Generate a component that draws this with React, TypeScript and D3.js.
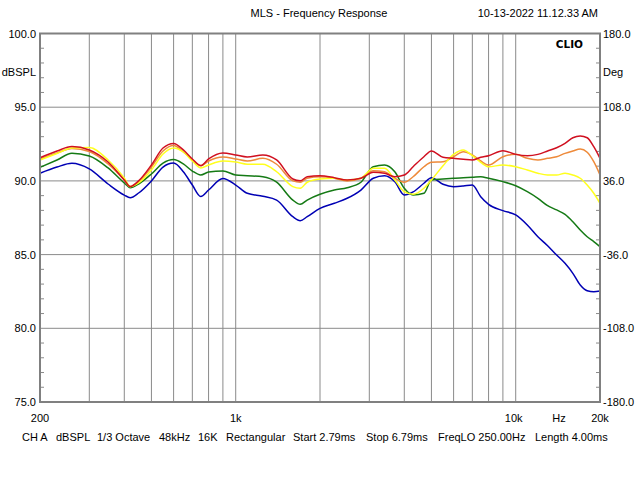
import * as d3 from "d3";

// frequency points (Hz) shared by every trace
const freqs = [
  200, 230, 260, 300, 350, 400, 420, 450, 500, 550, 600, 650, 700, 750, 800,
  900, 1000, 1100, 1250, 1400, 1600, 1700, 1800, 2000, 2250, 2500, 2800, 3100,
  3400, 3700, 4000, 4300, 4700, 5000, 5500, 6000, 6500, 7000, 7500, 8000, 9000,
  10000, 11000, 12000, 13000, 14000, 15000, 16000, 17000, 18000, 19000, 20000,
];

const blueDb = [
  90.52, 90.94, 91.19, 90.81, 89.79, 89.04, 88.86, 89.18, 90.0, 90.94, 91.21,
  90.62, 89.72, 88.94, 89.38, 90.16, 89.72, 89.16, 88.96, 88.7, 87.57, 87.3,
  87.57, 88.14, 88.48, 88.82, 89.38, 90.18, 90.35, 89.95, 89.04, 89.25, 89.84,
  90.22, 89.77, 89.61, 89.65, 89.72, 88.93, 88.41, 87.98, 87.69, 87.01, 86.21,
  85.6, 84.97, 84.41, 83.73, 82.94, 82.55, 82.48, 82.53,
];

const greenDb = [
  90.92, 91.42, 91.87, 91.69, 90.88, 89.86, 89.54, 89.79, 90.47, 91.21, 91.45,
  91.15, 90.67, 90.4, 90.6, 90.67, 90.4, 90.35, 90.28, 89.91, 88.7, 88.41, 88.7,
  89.09, 89.38, 89.54, 89.91, 90.96, 91.08, 90.62, 89.5, 89.04, 89.16, 90.06,
  90.13, 90.18, 90.22, 90.24, 90.28, 90.18, 89.95, 89.67, 89.27, 88.82, 88.32,
  88.03, 87.73, 87.23, 86.67, 86.21, 85.88, 85.54,
];

const orangeDb = [
  91.49, 91.89, 92.2, 91.99, 91.15, 90.06, 89.61, 89.93, 90.94, 92.03, 92.4,
  91.96, 91.42, 91.03, 91.35, 91.62, 91.49, 91.35, 91.53, 91.13, 90.0, 89.91,
  90.18, 90.28, 90.18, 90.0, 90.18, 90.69, 90.62, 90.18, 89.91, 90.28, 90.96,
  91.26, 91.3, 91.64, 91.98, 91.76, 91.35, 91.08, 91.64, 91.8, 91.53, 91.42,
  91.53, 91.64, 91.87, 92.03, 92.16, 91.94, 91.3, 90.4,
];

const yellowDb = [
  91.42, 91.86, 92.23, 92.27, 91.42, 90.2, 89.62, 89.86, 90.74, 91.82, 92.23,
  91.96, 91.35, 90.88, 91.08, 91.35, 91.28, 91.13, 91.13, 90.62, 89.61, 89.5,
  89.91, 90.13, 90.18, 90.06, 90.18, 90.85, 90.85, 90.06, 89.27, 89.09, 89.5,
  90.06, 91.03, 91.8, 92.1, 91.71, 91.26, 90.96, 91.08, 90.96, 90.74, 90.52,
  90.4, 90.4, 90.52, 90.4, 90.18, 89.72, 89.16, 88.48,
];

const redDb = [
  91.57, 92.03, 92.33, 92.1, 91.28, 90.06, 89.62, 90.0, 91.08, 92.23, 92.54,
  92.1, 91.49, 91.04, 91.49, 91.89, 91.76, 91.62, 91.76, 91.42, 90.13, 90.01,
  90.28, 90.35, 90.22, 90.06, 90.18, 90.58, 90.52, 90.28, 90.4, 90.96, 91.64,
  92.03, 91.6, 91.53, 91.47, 91.42, 91.6, 91.71, 92.05, 91.8, 91.71, 91.8,
  92.03, 92.25, 92.55, 92.93, 93.05, 92.93, 92.32, 91.53,
];

// axis ticks
const dbTicks = [100, 95, 90, 85, 80, 75];
const degTicks = [180, 108, 36, -36, -108, -180];
const gridFreqs = [
  300, 400, 500, 600, 700, 800, 900, 1000, 2000, 3000, 4000, 5000, 6000, 7000,
  8000, 9000, 10000,
];
const freqLabels = [
  { f: 200, text: "200" },
  { f: 1000, text: "1k" },
  { f: 10000, text: "10k" },
  { f: 20000, text: "20k" },
];
const footer = [
  "CH A",
  "dBSPL",
  "1/3 Octave",
  "48kHz",
  "16K",
  "Rectangular",
  "Start 2.79ms",
  "Stop 6.79ms",
  "FreqLO 250.00Hz",
  "Length 4.00ms",
];
const footerX = [22, 56, 97, 159, 198, 226, 293, 366, 438, 535];

const traces = [
  { name: "blue", values: blueDb, color: "#0000b4" },
  { name: "green", values: greenDb, color: "#157a15" },
  { name: "orange", values: orangeDb, color: "#ee8a3a" },
  { name: "yellow", values: yellowDb, color: "#ffff1e" },
  { name: "red", values: redDb, color: "#d01020" },
];

const W = 640;
const H = 480;
const left = 40;
const right = 600;
const top = 33.5;
const bottom = 402;
const gridColor = "#8a8a8a";
const font = "'Liberation Sans', Arial, sans-serif";

export default function App() {
  const x = d3.scaleLog().domain([200, 20000]).range([left, right]);
  const y = d3.scaleLinear().domain([75, 100]).range([bottom, top]);
  const yDeg = d3.scaleLinear().domain([-180, 180]).range([bottom, top]);

  const line = d3
    .line<number>()
    .x((_, i) => x(freqs[i]))
    .y((d) => y(d))
    .curve(d3.curveMonotoneX);

  const minorDb = d3.range(76, 100).filter((v) => v % 5 !== 0);

  return (
    <svg
      width={W}
      height={H}
      style={{ position: "absolute", left: 0, top: 0, background: "#fff" }}
      fontFamily={font}
      fontSize={11}
    >
      <rect x={0} y={0} width={W} height={H} fill="#fff" />

      {/* title row */}
      <text x={319} y={17} textAnchor="middle">
        MLS - Frequency Response
      </text>
      <text x={598} y={17} textAnchor="end">
        10-13-2022 11.12.33 AM
      </text>

      {/* grid */}
      <g stroke={gridColor} strokeWidth={1}>
        {gridFreqs.map((f) => (
          <line key={f} x1={x(f)} x2={x(f)} y1={top} y2={bottom} />
        ))}
        {dbTicks.slice(1, -1).map((v) => (
          <line key={v} x1={left} x2={right} y1={y(v)} y2={y(v)} />
        ))}
        {minorDb.map((v) => (
          <g key={v}>
            <line x1={left} x2={left + 4} y1={y(v)} y2={y(v)} />
            <line x1={right - 4} x2={right} y1={y(v)} y2={y(v)} />
          </g>
        ))}
      </g>

      {/* traces */}
      <g fill="none" strokeWidth={1.5} strokeLinejoin="round">
        {traces.map((t) => (
          <path key={t.name} d={line(t.values) ?? ""} stroke={t.color} />
        ))}
      </g>

      {/* frame */}
      <rect
        x={left}
        y={top}
        width={right - left}
        height={bottom - top}
        fill="none"
        stroke="#808080"
        strokeWidth={2}
      />

      <text
        x={583}
        y={48}
        textAnchor="end"
        fontWeight="bold"
        fontFamily="'DejaVu Sans', sans-serif"
        fontSize={10.5}
      >
        CLIO
      </text>

      {/* left axis labels */}
      {dbTicks.map((v) => (
        <text key={v} x={36} y={y(v) + 4} textAnchor="end">
          {v.toFixed(1)}
        </text>
      ))}
      <text x={36} y={76} textAnchor="end">
        dBSPL
      </text>

      {/* right axis labels */}
      {degTicks.map((v) => (
        <text key={v} x={603} y={yDeg(v) + 4}>
          {v.toFixed(1)}
        </text>
      ))}
      <text x={603} y={76}>
        Deg
      </text>

      {/* frequency labels */}
      {freqLabels.map((l) => (
        <text key={l.text} x={x(l.f) - (l.f === 10000 ? 2 : 0)} y={422} textAnchor="middle">
          {l.text}
        </text>
      ))}
      <text x={559} y={422} textAnchor="middle">
        Hz
      </text>

      {/* footer */}
      {footer.map((s, i) => (
        <text key={s} x={footerX[i]} y={441}>
          {s}
        </text>
      ))}
    </svg>
  );
}
